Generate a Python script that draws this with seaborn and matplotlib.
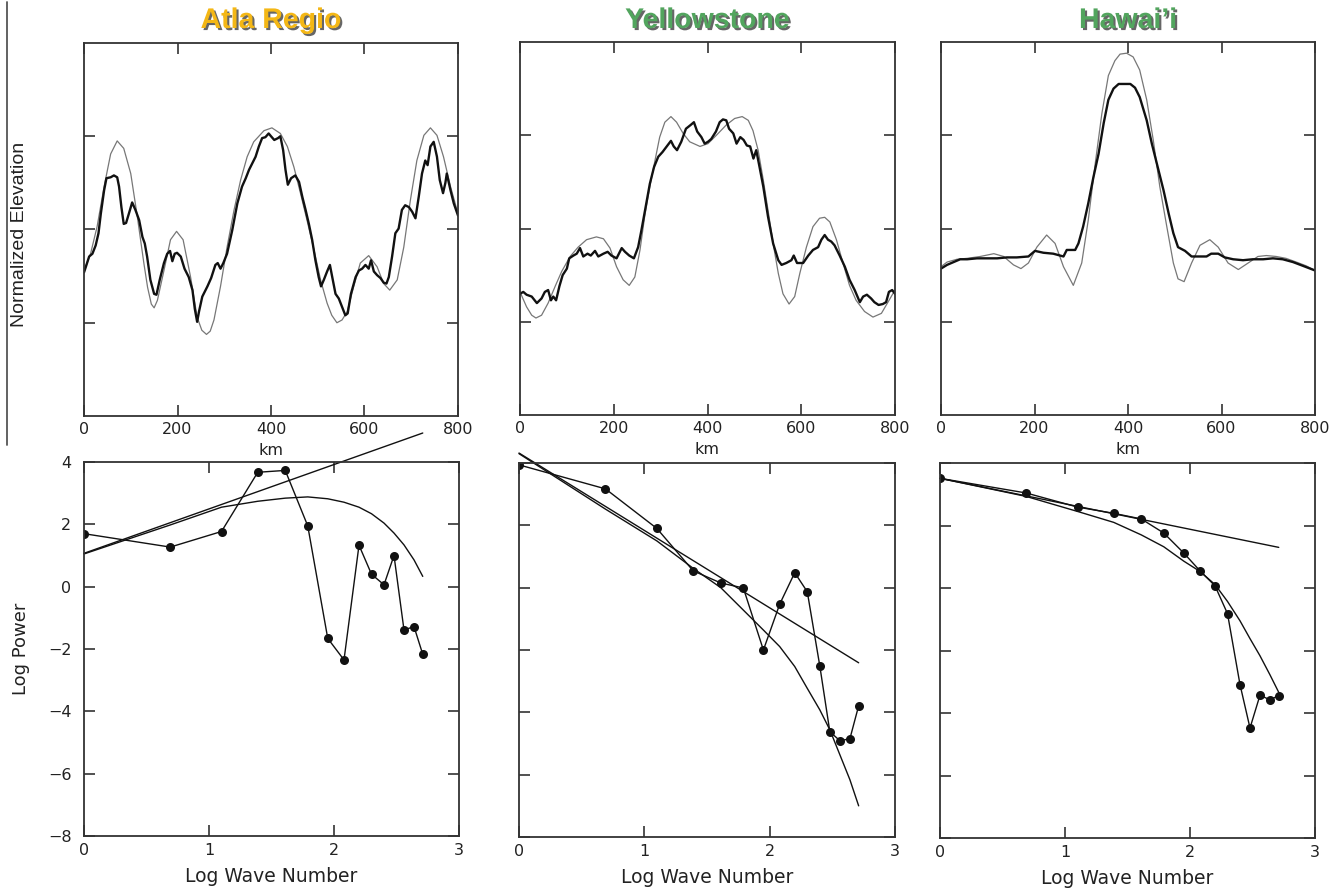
import matplotlib
matplotlib.use("Agg")
import matplotlib.pyplot as plt
import matplotlib.patheffects as pe
from matplotlib.lines import Line2D
import seaborn as sns

# ---- top row: normalized elevation profiles (km, value) ----
atla_obs_km = [0, 4, 11, 18, 25, 31, 36, 43, 48, 57, 64, 71, 75, 80, 85, 90, 96, 103, 110, 118,
               125, 130, 135, 142, 150, 155, 162, 171, 178, 184, 189, 194, 199, 207, 215, 224, 232, 237, 242, 246,
               253, 264, 272, 281, 286, 292, 298, 306, 317, 328, 338, 346, 353, 360, 367, 374, 381, 388, 395, 400,
               407, 415, 420, 426, 431, 436, 443, 452, 460, 467, 474, 481, 488, 495, 502, 507, 513, 520, 526, 531,
               538, 545, 552, 559, 564, 571, 581, 588, 595, 602, 609, 614, 620, 627, 634, 641, 647, 652, 659, 666,
               673, 680, 687, 695, 702, 709, 716, 723, 730, 735, 741, 748, 755, 761, 768, 773, 776, 784, 791, 800]
atla_obs = [1.54, 1.60, 1.71, 1.74, 1.83, 1.96, 2.17, 2.42, 2.55, 2.56, 2.58, 2.56, 2.46, 2.24, 2.06, 2.07, 2.17, 2.29, 2.21, 2.10,
            1.92, 1.85, 1.71, 1.46, 1.31, 1.30, 1.46, 1.64, 1.74, 1.77, 1.66, 1.74, 1.75, 1.71, 1.58, 1.49, 1.35, 1.15, 1.01, 1.12,
            1.28, 1.39, 1.48, 1.62, 1.64, 1.58, 1.64, 1.74, 1.99, 2.28, 2.46, 2.55, 2.64, 2.71, 2.78, 2.89, 2.98, 2.99, 3.03, 3.00,
            2.96, 2.98, 3.00, 2.85, 2.64, 2.48, 2.55, 2.58, 2.51, 2.35, 2.21, 2.06, 1.89, 1.67, 1.49, 1.39, 1.46, 1.55, 1.62, 1.49,
            1.31, 1.26, 1.17, 1.08, 1.10, 1.31, 1.49, 1.56, 1.58, 1.62, 1.58, 1.67, 1.55, 1.51, 1.48, 1.43, 1.42, 1.49, 1.71, 1.96,
            2.01, 2.21, 2.26, 2.24, 2.19, 2.12, 2.35, 2.60, 2.74, 2.69, 2.89, 2.94, 2.78, 2.53, 2.39, 2.50, 2.60, 2.42, 2.28, 2.15]
atla_mod_km = [0, 14, 28, 43, 57, 71, 85, 100, 114, 128, 136, 144, 150, 157, 171, 185, 198, 212, 228, 242, 252, 262,
               270, 278, 292, 306, 321, 335, 349, 363, 385, 402, 420, 435, 449, 463, 477, 492, 506, 520, 530, 541, 552,
               563, 577, 591, 609, 627, 641, 654, 670, 684, 698, 712, 727, 741, 755, 769, 784, 800]
atla_mod = [1.56, 1.74, 2.03, 2.46, 2.81, 2.95, 2.87, 2.60, 2.14, 1.64, 1.38, 1.20, 1.16, 1.24, 1.56, 1.89, 1.98, 1.89, 1.49, 1.06, 0.92, 0.875,
            0.91, 1.03, 1.39, 1.81, 2.21, 2.53, 2.78, 2.94, 3.06, 3.09, 3.03, 2.89, 2.67, 2.39, 2.10, 1.78, 1.46, 1.21, 1.08, 1.00, 1.03,
            1.12, 1.39, 1.64, 1.72, 1.60, 1.42, 1.35, 1.46, 1.81, 2.31, 2.74, 3.01, 3.09, 3.01, 2.78, 2.46, 2.17]

yell_obs_km = [0, 7, 14, 25, 36, 46, 53, 60, 66, 71, 77, 84, 91, 100, 105, 114, 121, 128, 135, 144,
               151, 160, 167, 178, 187, 195, 206, 217, 224, 233, 243, 252, 259, 268, 277, 286, 295, 304, 313, 322,
               328, 335, 344, 354, 364, 371, 378, 387, 394, 401, 408, 418, 426, 433, 440, 446, 455, 462, 470, 477,
               484, 491, 498, 504, 511, 519, 529, 540, 551, 558, 568, 579, 584, 591, 604, 615, 625, 636, 643, 650,
               657, 664, 671, 682, 693, 703, 714, 725, 732, 740, 749, 756, 765, 774, 781, 787, 794, 800]
yell_obs = [1.30, 1.32, 1.29, 1.27, 1.20, 1.25, 1.32, 1.34, 1.23, 1.27, 1.23, 1.38, 1.50, 1.57, 1.68, 1.71, 1.73, 1.79, 1.70, 1.73,
            1.71, 1.76, 1.70, 1.73, 1.75, 1.71, 1.68, 1.79, 1.75, 1.71, 1.68, 1.80, 1.98, 2.23, 2.48, 2.66, 2.77, 2.82, 2.88, 2.94,
            2.88, 2.84, 2.93, 3.07, 3.11, 3.14, 3.04, 2.98, 2.91, 2.93, 2.96, 3.04, 3.14, 3.17, 3.16, 3.07, 3.02, 2.91, 2.98, 2.95,
            2.89, 2.88, 2.75, 2.84, 2.66, 2.45, 2.13, 1.84, 1.66, 1.61, 1.63, 1.66, 1.71, 1.63, 1.63, 1.71, 1.77, 1.80, 1.88, 1.93,
            1.88, 1.86, 1.82, 1.71, 1.59, 1.45, 1.34, 1.21, 1.27, 1.29, 1.25, 1.21, 1.18, 1.19, 1.21, 1.32, 1.34, 1.30]
yell_mod_km = [0, 14, 25, 34, 46, 60, 75, 89, 107, 124, 142, 163, 178, 192, 206, 220, 233, 245, 256, 266,
               277, 288, 298, 309, 322, 334, 348, 362, 384, 401, 419, 440, 458, 474, 487, 497, 508, 519, 529, 540,
               551, 561, 574, 586, 597, 611, 625, 639, 650, 661, 675, 689, 703, 717, 735, 753, 771, 785, 800]
yell_mod = [1.32, 1.16, 1.07, 1.04, 1.07, 1.20, 1.38, 1.54, 1.70, 1.80, 1.88, 1.91, 1.89, 1.79, 1.59, 1.45, 1.39, 1.48, 1.77, 2.13,
            2.45, 2.73, 2.98, 3.14, 3.20, 3.14, 3.02, 2.93, 2.88, 2.91, 3.00, 3.11, 3.18, 3.20, 3.16, 3.05, 2.84, 2.52, 2.20, 1.84,
            1.52, 1.30, 1.19, 1.27, 1.52, 1.80, 2.02, 2.11, 2.12, 2.07, 1.88, 1.63, 1.39, 1.23, 1.11, 1.05, 1.09, 1.21, 1.34]

haw_obs_km = [0, 13, 27, 41, 56, 77, 98, 120, 141, 162, 187, 201, 219, 240, 262, 269, 287, 294, 304, 315,
              326, 337, 348, 358, 369, 380, 390, 405, 415, 425, 440, 451, 465, 476, 487, 497, 507, 522, 536, 554,
              568, 578, 593, 607, 625, 646, 667, 689, 710, 731, 753, 774, 800]
haw_obs = [1.57, 1.61, 1.64, 1.67, 1.67, 1.68, 1.68, 1.68, 1.69, 1.69, 1.70, 1.76, 1.74, 1.73, 1.70, 1.77, 1.77, 1.84, 2.02, 2.27,
           2.55, 2.80, 3.13, 3.38, 3.50, 3.55, 3.55, 3.55, 3.51, 3.41, 3.16, 2.91, 2.63, 2.41, 2.16, 1.95, 1.80, 1.76, 1.70, 1.70,
           1.70, 1.73, 1.73, 1.69, 1.67, 1.66, 1.67, 1.67, 1.68, 1.67, 1.64, 1.60, 1.55]
haw_mod_km = [0, 13, 34, 56, 84, 113, 134, 155, 171, 187, 205, 226, 244, 262, 283, 301, 315, 330, 344, 358,
              372, 383, 397, 411, 425, 440, 454, 468, 483, 497, 507, 520, 536, 554, 575, 593, 614, 636, 657, 678,
              696, 717, 738, 760, 781, 800]
haw_mod = [1.59, 1.64, 1.67, 1.68, 1.70, 1.73, 1.70, 1.61, 1.57, 1.63, 1.80, 1.93, 1.84, 1.59, 1.39, 1.63, 2.09, 2.70, 3.23, 3.64,
           3.80, 3.87, 3.88, 3.84, 3.70, 3.38, 2.95, 2.45, 2.02, 1.63, 1.46, 1.43, 1.63, 1.82, 1.88, 1.80, 1.63, 1.56, 1.63, 1.70,
           1.71, 1.70, 1.68, 1.64, 1.60, 1.55]

# ---- bottom row: power spectra ----
log_k = [0, 0.69, 1.10, 1.39, 1.61, 1.79, 1.95, 2.08, 2.20, 2.30, 2.40, 2.48, 2.56, 2.64, 2.71]
atla_pow = [1.70, 1.27, 1.77, 3.67, 3.73, 1.95, -1.66, -2.35, 1.33, 0.40, 0.06, 1.00, -1.39, -1.28, -2.17]
atla_fit = [1.05, 1.98, 2.55, 2.74, 2.84, 2.88, 2.82, 2.71, 2.55, 2.34, 2.04, 1.72, 1.34, 0.86, 0.33]
atla_line = [1.07, 4.93]
yell_pow = [3.94, 3.17, 1.90, 0.54, 0.15, -0.01, -2.00, -0.53, 0.48, -0.13, -2.51, -4.62, -4.91, -4.85, -3.79]
yell_fit = [4.30, 2.52, 1.50, 0.62, 0.00, -0.72, -1.36, -1.89, -2.53, -3.23, -3.92, -4.56, -5.36, -6.16, -7.00]
yell_line = [4.32, -2.41]
haw_pow = [3.51, 3.04, 2.59, 2.39, 2.21, 1.76, 1.12, 0.55, 0.07, -0.82, -3.09, -4.48, -3.43, -3.58, -3.44]
haw_fit = [3.51, 2.93, 2.45, 2.10, 1.70, 1.32, 0.86, 0.53, 0.11, -0.43, -1.05, -1.62, -2.17, -2.78, -3.34]
haw_line = [3.51, 1.30]
line_x = [0, 2.71]

titles = ["Atla Regio", "Yellowstone", "Hawai\u2019i"]
title_colors = ["#F4B715", "#52A55E", "#52A55E"]

sns.set_theme(style="ticks")
plt.rcParams['font.family'] = ['DejaVu Sans']

W, H = 1343, 888
fig = plt.figure(figsize=(W / 100, H / 100), dpi=100)


def box(l, t, r, b):
    return [l / W, 1 - b / H, (r - l) / W, (b - t) / H]


def style(ax):
    for s in ax.spines.values():
        s.set_color('#333333')
        s.set_linewidth(1.3)
    ax.tick_params(direction='in', length=8, width=1.2, color='#333333', top=True, right=True,
                   labelsize=11.5, labelcolor='#222222')


top_boxes = [box(84, 43, 458, 416), box(520, 42, 895, 415), box(941, 42, 1315, 415)]
bot_boxes = [box(84, 462, 459, 836), box(519, 463, 895, 837), box(940, 463, 1315, 838)]

tops = [(atla_obs_km, atla_obs, atla_mod_km, atla_mod),
        (yell_obs_km, yell_obs, yell_mod_km, yell_mod),
        (haw_obs_km, haw_obs, haw_mod_km, haw_mod)]
bots = [(atla_pow, atla_fit, atla_line), (yell_pow, yell_fit, yell_line), (haw_pow, haw_fit, haw_line)]

for i in range(3):
    # profile panel
    ax = fig.add_axes(top_boxes[i])
    obs_km, obs, mod_km, mod = tops[i]
    sns.lineplot(x=mod_km, y=mod, ax=ax, color='#777777', linewidth=0.9, estimator=None, sort=False)
    sns.lineplot(x=obs_km, y=obs, ax=ax, color='#111111', linewidth=1.7, estimator=None, sort=False)
    ax.set_xlim(0, 800)
    ax.set_ylim(0, 4)
    ax.set_xticks([0, 200, 400, 600, 800])
    ax.set_yticks([1, 2, 3])
    ax.set_yticklabels([])
    style(ax)
    ax.tick_params(axis='x', pad=4)
    ax.set_xlabel('km', fontsize=11.5, color='#222222', va='top')
    ax.xaxis.set_label_coords(0.5, -0.072)
    ax.set_ylabel('')
    pos = ax.get_position()
    fig.text(pos.x0 + pos.width / 2, 1 - 21 / H, titles[i], ha='center', va='center',
             fontsize=20.5, fontweight='bold', family='Liberation Sans', color=title_colors[i],
             path_effects=[pe.withSimplePatchShadow(offset=(1.5, -1.5), shadow_rgbFace='#333333', alpha=0.75)])

    # spectrum panel
    bx = fig.add_axes(bot_boxes[i])
    pw, fit, ln = bots[i]
    sns.lineplot(x=line_x, y=ln, ax=bx, color='#111111', linewidth=1.0, estimator=None, sort=False, clip_on=False)
    sns.lineplot(x=log_k, y=fit, ax=bx, color='#111111', linewidth=1.0, estimator=None, sort=False, clip_on=False)
    sns.lineplot(x=log_k, y=pw, ax=bx, color='#111111', linewidth=1.0, marker='o', markersize=6.5,
                 markeredgewidth=0, estimator=None, sort=False)
    bx.set_xlim(0, 3)
    bx.set_ylim(-8, 4)
    bx.set_xticks([0, 1, 2, 3])
    bx.set_yticks([-8, -6, -4, -2, 0, 2, 4])
    style(bx)
    bx.tick_params(axis='x', pad=5)
    bx.tick_params(axis='y', pad=9)
    if i > 0:
        bx.set_yticklabels([])
        bx.set_ylabel('')
    else:
        bx.set_ylabel('Log Power', fontsize=13, color='#222222')
        bx.yaxis.set_label_coords(-0.145, 0.5)
    bx.set_xlabel('Log Wave Number', fontsize=13.5, color='#222222', va='top')
    bx.xaxis.set_label_coords(0.5, -0.083)

fig.text(20 / W, 1 - 234 / H, 'Normalized Elevation', rotation=90, ha='center', va='center',
         fontsize=14, family='Liberation Sans', color='#222222')
fig.add_artist(Line2D([7 / W, 7 / W], [1 - 2 / H, 1 - 445 / H], color='#555555', linewidth=1.3))

fig.savefig('out.png', dpi=100)
